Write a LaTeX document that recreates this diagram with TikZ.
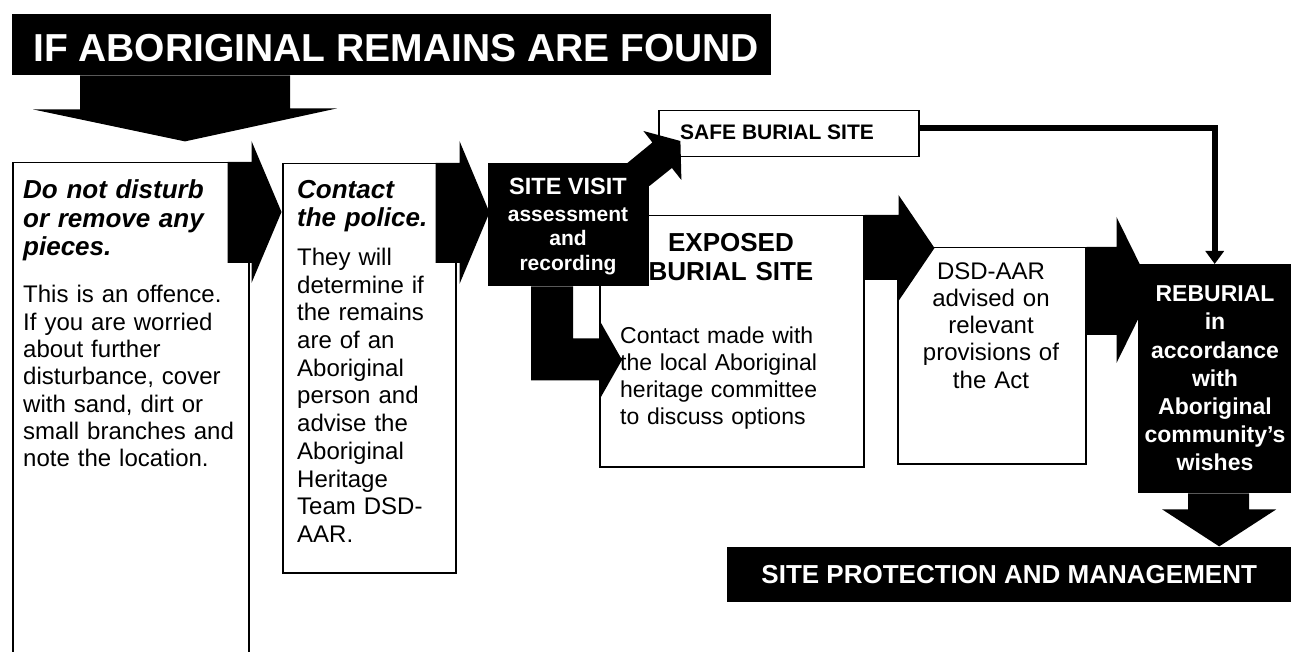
\documentclass[tikz,border=0pt]{standalone}
\usepackage{fontspec}
\setmainfont{Liberation Sans}
\usetikzlibrary{arrows.meta}

\tikzset{
  wbox/.style={draw, line width=1.5pt, fill=white, inner sep=0pt, anchor=north west},
  bbox/.style={fill=black, inner sep=0pt, anchor=north west},
  txt/.style={inner sep=0pt, anchor=base west, align=left},
  ctxt/.style={inner sep=0pt, anchor=base, align=center},
}

\begin{document}
\begin{tikzpicture}[x=1pt,y=-1pt]
\useasboundingbox (0,0) rectangle (1291,652);
\clip (0,0) rectangle (1291,652);

\node[bbox, minimum width=759pt, minimum height=61pt] (title) at (12,14) {};
\node[txt, text=white, font=\bfseries\fontsize{39}{39}\selectfont] (titletxt) at (33,61.5) {IF ABORIGINAL REMAINS ARE FOUND};
\fill (title.south west) ++(68,0) -- ++(210,0) -- ++(0,33) -- ++(47,0) -- ++(-152,33) -- ++(-152,-32) -- ++(47,0) -- cycle;

\node[wbox, minimum width=236pt, minimum height=520pt] (dont) at (12,162) {};
\fill (dont.north east) ++(-22,0) -- ++(24,0) -- ++(0,-21) -- ++(30,71) -- ++(-30,71) -- ++(0,-20) -- ++(-24,0) -- cycle;
\node[txt, text width=222pt, font=\bfseries\itshape\fontsize{26}{28.5}\selectfont] (donthead) at (23,199)
  {Do not disturb\\or remove any\\pieces.};
\node[txt, text width=222pt, font=\fontsize{24}{27.3}\selectfont] (dontbody) at (23,303)
  {This is an offence.\\If you are worried\\about further\\disturbance, cover\\with sand, dirt or\\small branches and\\note the location.};

\node[wbox, minimum width=173pt, minimum height=409pt] (police) at (282,163) {};
\fill (police.north east) ++(-21,0) -- ++(24,0) -- ++(0,-22) -- ++(30,71.5) -- ++(-30,71.5) -- ++(0,-21) -- ++(-24,0) -- cycle;
\node[txt, text width=155pt, font=\bfseries\itshape\fontsize{26}{28.5}\selectfont] (policehead) at (297,198.5)
  {Contact\\the police.};
\node[txt, text width=155pt, font=\fontsize{24}{27.7}\selectfont] (policebody) at (297,265.5)
  {They will\\determine if\\the remains\\are of an\\Aboriginal\\person and\\advise the\\Aboriginal\\Heritage\\Team DSD-\\AAR.};

\node[wbox, minimum width=264pt, minimum height=251pt] (expo) at (599,215) {};
\node[bbox, minimum width=161pt, minimum height=123pt] (visit) at (488,163) {};
\node[wbox, minimum width=260pt, minimum height=46pt] (safe) at (658,110) {};
\fill (visit.north east) ++(-22,0) -- ++(25,-20.5) -- ++(-9,-11.5) -- ++(37,10) -- ++(1,39) -- ++(-9.5,-12) -- ++(-22.5,18) -- cycle;
\fill (visit.south west) ++(43,0) -- ++(42,0) -- ++(0,52) -- ++(26,0) -- ++(0,-19) -- ++(23,40.5) -- ++(-23,40.5) -- ++(0,-20) -- ++(-68,0) -- cycle;
\node[ctxt, text=white, font=\bfseries\fontsize{23.5}{26}\selectfont] (visittxt) at (568,195) {SITE VISIT};
\node[ctxt, text=white, text width=150pt, font=\bfseries\fontsize{21}{24.2}\selectfont] (visitsub) at (568,221.7)
  {assessment\\and\\recording};
\node[txt, font=\bfseries\fontsize{21}{21}\selectfont] (safetxt) at (680,140) {SAFE BURIAL SITE};
\node[ctxt, text width=250pt, font=\bfseries\fontsize{26}{29.3}\selectfont] (expohead) at (731,251.7)
  {EXPOSED\\BURIAL SITE};
\node[txt, text width=235pt, font=\fontsize{23}{27}\selectfont] (expobody) at (620,344)
  {Contact made with\\the local Aboriginal\\heritage committee\\to discuss options};

\node[wbox, minimum width=188pt, minimum height=216pt] (dsd) at (897,247) {};
\fill (expo.north east) -- ++(34,0) -- ++(0,-20) -- ++(36,53) -- ++(-36,53) -- ++(0,-21) -- ++(-34,0) -- cycle;
\node[ctxt, text width=180pt, font=\fontsize{24}{27.2}\selectfont] (dsdtxt) at (991,279.3)
  {DSD-AAR\\advised on\\relevant\\provisions of\\the Act};

\fill (dsd.north east) -- ++(30,0) -- ++(0,-30) -- ++(36,73) -- ++(-36,73) -- ++(0,-28) -- ++(-30,0) -- cycle;
\node[bbox, minimum width=153pt, minimum height=229pt] (reb) at (1138,264) {};
\node[ctxt, text=white, text width=150pt, font=\bfseries\fontsize{23}{28.2}\selectfont] (rebtxt) at (1215,301.7)
  {REBURIAL\\in\\accordance\\with\\Aboriginal\\community’s\\wishes};

\draw[line width=6pt, -{Triangle[width=18pt,length=13pt]}] ([yshift=6pt]safe.east) -| (reb.north);

\fill (reb.south) ++(-26.5,0) -- ++(61,0) -- ++(0,16) -- ++(27,0) -- ++(-57,37) -- ++(-57,-37) -- ++(26,0) -- cycle;
\node[bbox, minimum width=564pt, minimum height=55pt, text=white, font=\bfseries\fontsize{26}{26}\selectfont] (protect) at (727,547)
  {SITE PROTECTION AND MANAGEMENT};
\end{tikzpicture}
\end{document}
